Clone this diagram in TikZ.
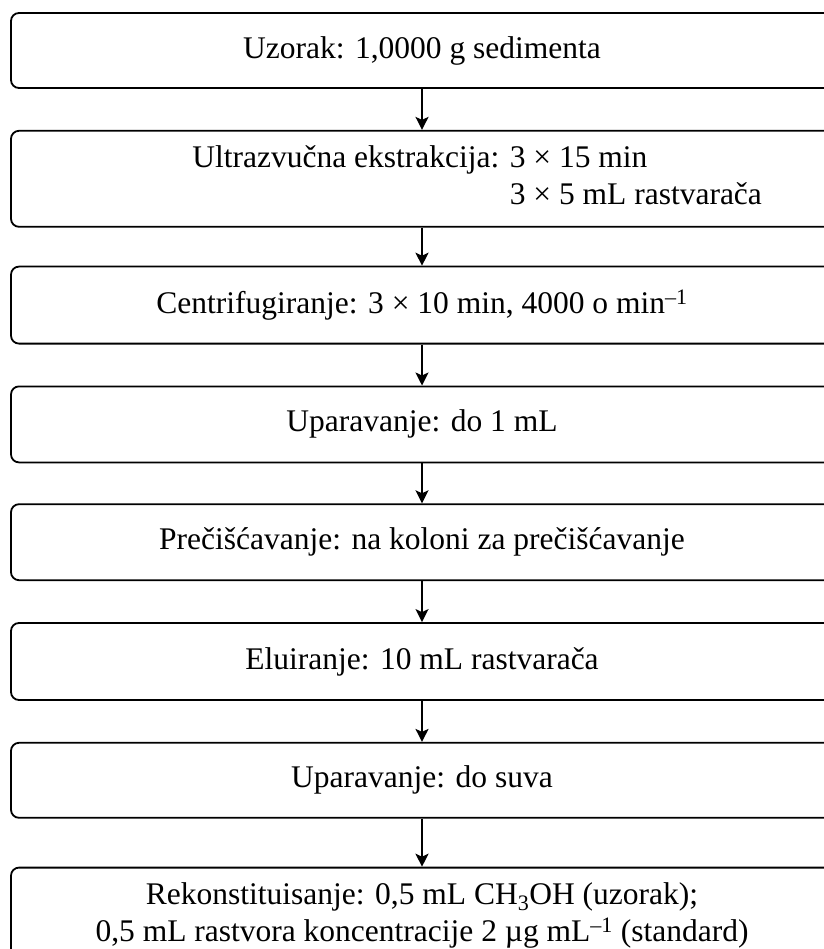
\documentclass[tikz,border=0pt]{standalone}
\usepackage{fontspec}
\setmainfont{Liberation Serif}
\usetikzlibrary{arrows.meta,positioning}
\tikzset{
  stepbox/.style={rectangle,rounded corners=8pt,draw=black,line width=1.8pt,
                  minimum width=822pt,minimum height=#1,inner sep=0pt,
                  align=center,font=\fontsize{31.5}{37}\selectfont},
  stepbox/.default=76pt,
  txt/.style={inner sep=0pt,font=\fontsize{31.5}{37}\selectfont},
  arr/.style={-{Stealth[length=13pt,width=13pt,inset=3pt]},line width=1.8pt},
}

\begin{document}
\begin{tikzpicture}[x=1pt,y=-1pt]
  \useasboundingbox (0,0) rectangle (823,949);

  \node[stepbox=75pt] (uzorak) at (422,50.5) {Uzorak: 1,0000 g sedimenta};
  \node[stepbox=96pt,below=41pt of uzorak] (ultra) {};
  \node[txt,anchor=west] (ultxt) at ([xshift=182pt]ultra.west)
    {\begin{tabular}{@{}l@{ }l@{}}
       Ultrazvučna ekstrakcija: & 3 × 15 min\\
                                & 3 × 5 mL rastvarača
     \end{tabular}};
  \node[stepbox=77pt,below=38pt of ultra] (centri)
    {Centrifugiranje: 3 × 10 min, 4000 o min\textsuperscript{\textendash1}};
  \node[stepbox,below=41pt of centri] (upar1) {Uparavanje: do 1 mL};
  \node[stepbox,below=40pt of upar1] (preci)
    {Prečišćavanje: na koloni za prečišćavanje};
  \node[stepbox=77pt,below=41pt of preci] (elui) {Eluiranje: 10 mL rastvarača};
  \node[stepbox=75pt,below=41pt of elui] (upar2) {Uparavanje: do suva};
  \node[stepbox=96pt,below=48pt of upar2] (rekon)
    {Rekonstituisanje: 0,5 mL CH\textsubscript{3}OH (uzorak);\\
     0,5 mL rastvora koncentracije 2 µg mL\textsuperscript{\textendash1} (standard)};

  \draw[arr] (uzorak) -- (ultra);
  \draw[arr] (ultra)  -- (centri);
  \draw[arr] (centri) -- (upar1);
  \draw[arr] (upar1)  -- (preci);
  \draw[arr] (preci)  -- (elui);
  \draw[arr] (elui)   -- (upar2);
  \draw[arr] (upar2)  -- (rekon);
\end{tikzpicture}
\end{document}
